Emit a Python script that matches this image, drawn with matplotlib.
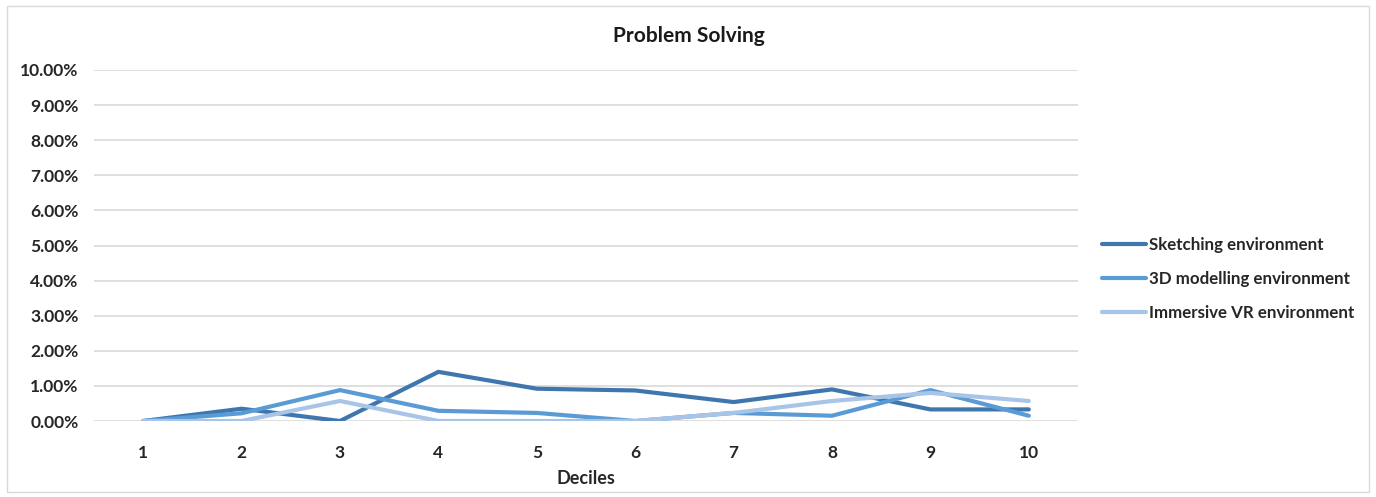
import numpy as np
import matplotlib.pyplot as plt
from matplotlib.patches import Rectangle
from matplotlib.ticker import PercentFormatter

plt.rcParams['font.family'] = ['Lato', 'DejaVu Sans']

deciles = [1, 2, 3, 4, 5, 6, 7, 8, 9, 10]
sketching = [0.00, 0.35, 0.00, 1.40, 0.92, 0.87, 0.54, 0.90, 0.33, 0.33]
modelling_3d = [0.00, 0.22, 0.88, 0.29, 0.23, 0.00, 0.23, 0.15, 0.88, 0.15]
immersive_vr = [0.00, 0.00, 0.57, 0.00, 0.00, 0.00, 0.23, 0.57, 0.80, 0.57]

series_names = ["Sketching environment", "3D modelling environment", "Immersive VR environment"]
colors = ["#3F76AE", "#5B9BD5", "#A8C5E8"]

fig = plt.figure(figsize=(13.76, 4.97), dpi=100)
fig.patches.append(Rectangle((7 / 1376, 5 / 497), 1362 / 1376, 486 / 497,
                             transform=fig.transFigure, fill=False,
                             edgecolor="#D9D9D9", linewidth=1))

ax = fig.add_axes([94 / 1376, 1 - 421 / 497, 984 / 1376, 351 / 497])

for vals, name, c in zip([sketching, modelling_3d, immersive_vr], series_names, colors):
    ax.plot(deciles, vals, color=c, linewidth=3, label=name, solid_capstyle="round")

ax.set_xlim(0.5, 10.5)
ax.set_ylim(0, 10)
ax.set_yticks(np.arange(0, 11, 1))
ax.yaxis.set_major_formatter(PercentFormatter(decimals=2))
ax.set_xticks(deciles)
ax.grid(axis="y", color="#D9D9D9", linewidth=1.2)
ax.set_axisbelow(True)
for s in ax.spines.values():
    s.set_visible(False)
ax.tick_params(length=0, labelsize=12.5)
ax.tick_params(axis="y", pad=11)
ax.tick_params(axis="x", pad=17)
for lbl in ax.get_xticklabels() + ax.get_yticklabels():
    lbl.set_fontweight("bold")
    lbl.set_color("#262626")

ax.set_xlabel("Deciles", fontsize=13, fontweight="bold", color="#262626", labelpad=7)
fig.text(689 / 1376, 1 - 36 / 497, "Problem Solving", ha="center", va="center",
         fontsize=15, fontweight="bold", color="#1a1a1a")

leg = ax.legend(loc="center left", bbox_to_anchor=(1.009, 0.405), frameon=False,
                fontsize=12.2, handlelength=2.6, handletextpad=0.15, labelspacing=1.05)
for t in leg.get_texts():
    t.set_fontweight("bold")
    t.set_color("#262626")

fig.savefig("out.png", dpi=100)
